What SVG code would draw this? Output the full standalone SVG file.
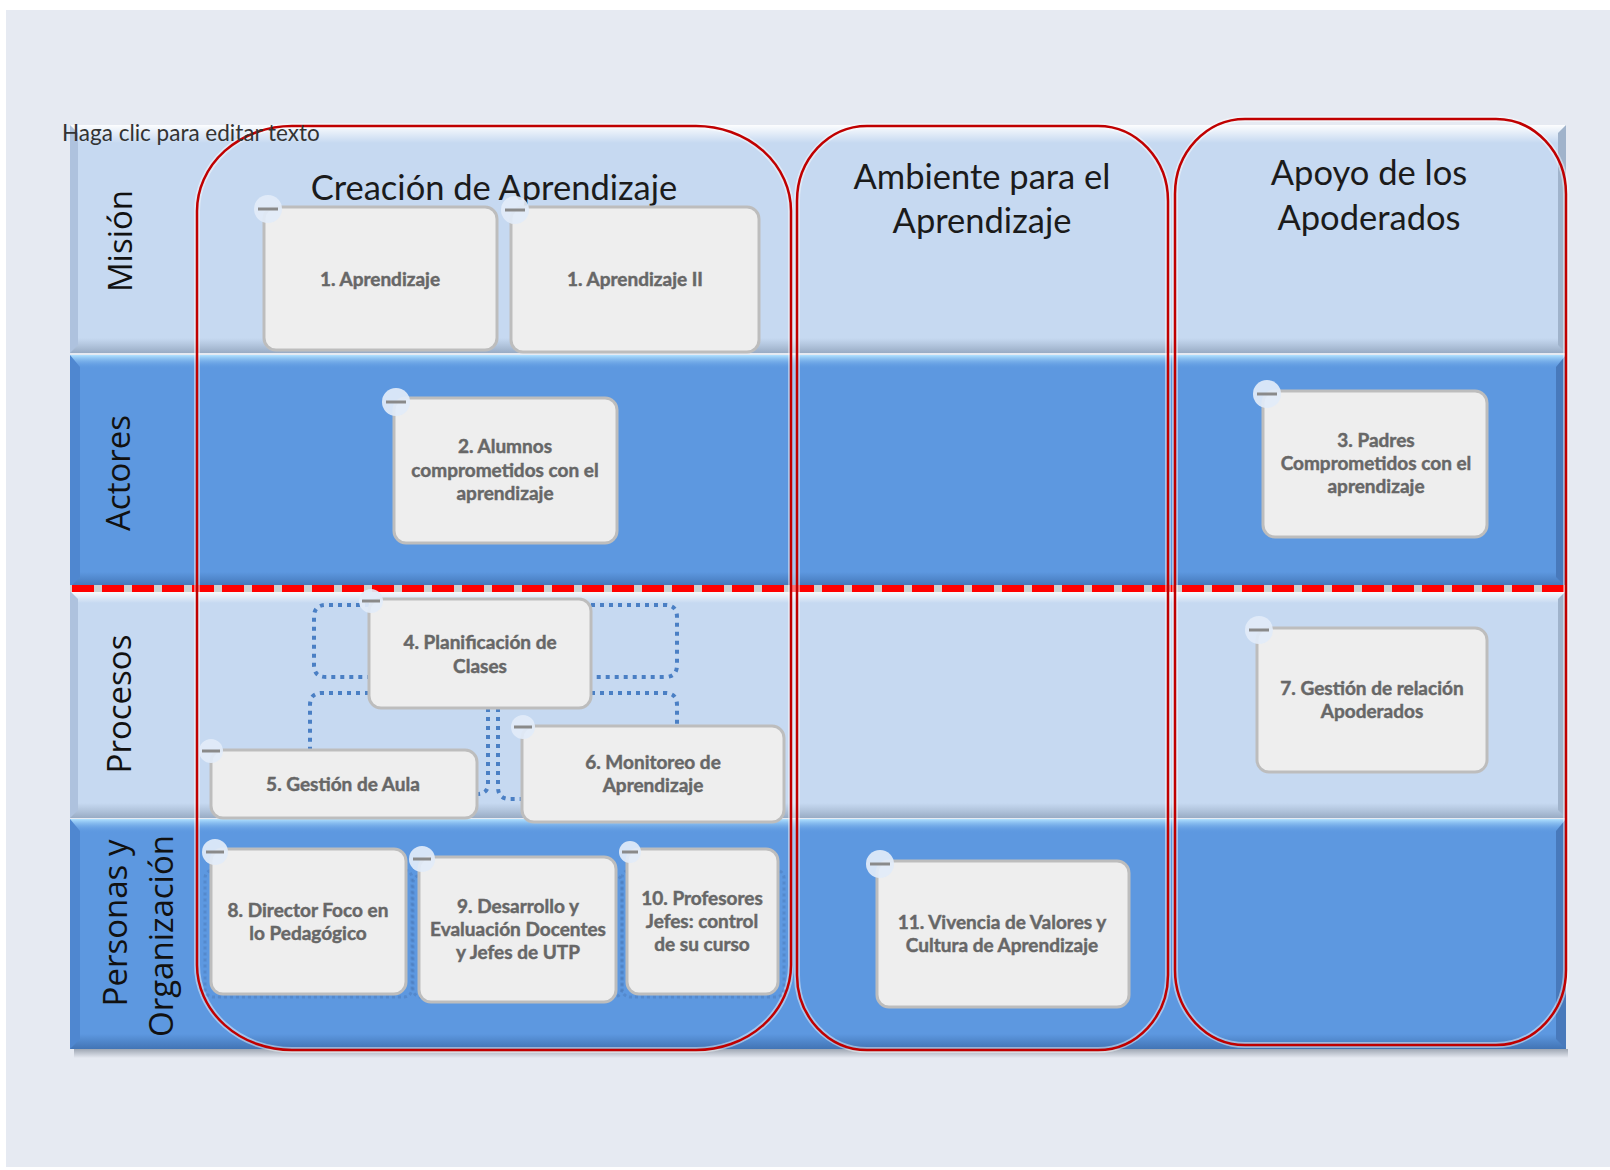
<svg xmlns="http://www.w3.org/2000/svg" width="1610" height="1170" viewBox="0 0 1610 1170">
<defs>
  <linearGradient id="hiLight" x1="0" y1="0" x2="0" y2="1">
    <stop offset="0" stop-color="#ffffff" stop-opacity="0.95"/>
    <stop offset="1" stop-color="#ffffff" stop-opacity="0"/>
  </linearGradient>
  <linearGradient id="shLight" x1="0" y1="0" x2="0" y2="1">
    <stop offset="0" stop-color="#9fb2ca" stop-opacity="0"/>
    <stop offset="1" stop-color="#98abc4" stop-opacity="1"/>
  </linearGradient>
  <linearGradient id="hiDark" x1="0" y1="0" x2="0" y2="1">
    <stop offset="0" stop-color="#b2e2ff" stop-opacity="1"/>
    <stop offset="1" stop-color="#5d98e0" stop-opacity="0"/>
  </linearGradient>
  <linearGradient id="shDark" x1="0" y1="0" x2="0" y2="1">
    <stop offset="0" stop-color="#3f70b0" stop-opacity="0"/>
    <stop offset="1" stop-color="#3f70b0" stop-opacity="0.9"/>
  </linearGradient>
  <linearGradient id="tblShadow" x1="0" y1="0" x2="0" y2="1">
    <stop offset="0" stop-color="#8c95a3" stop-opacity="0.8"/>
    <stop offset="1" stop-color="#8c95a3" stop-opacity="0"/>
  </linearGradient>
</defs>
<style>
  .lane-light { fill:#c6d9f1; }
  .lane-dark { fill:#5d98e0; }
  .bevel-l-light { fill:#aec2de; }
  .bevel-r-light { fill:#a0b3cb; }
  .bevel-l-dark { fill:#4f87d0; }
  .bevel-r-dark { fill:#4879bb; }
  .lane-label { font-family:"Open Sans", "DejaVu Sans", sans-serif; font-size:33px; fill:#111111; text-anchor:middle; }
  .hdr { font-family:Lato, "Liberation Sans", sans-serif; font-size:34.5px; fill:#1b1b1b; text-anchor:middle; }
  .hint { font-family:Lato, "Liberation Sans", sans-serif; font-size:22.5px; fill:#333333; }
  .grp-halo { fill:none; stroke:#ffffff; stroke-opacity:0.45; stroke-width:6; }
  .grp { fill:none; stroke:#c00000; stroke-width:2.5; }
  .box { fill:#eeeeee; stroke:#bdbdbd; stroke-width:3; }
  .ntext { font-family:Lato, "Open Sans", sans-serif; font-weight:700; font-size:19px; fill:#676767; stroke:#676767; stroke-width:0.45; text-anchor:middle; }
  .badge { fill:#e2ebf8; fill-opacity:0.92; }
  .minus { stroke:#8a8a8a; stroke-width:3; }
  .dot { fill:none; stroke:#4a7fc4; stroke-width:4; stroke-dasharray:4 5; }
  .dotframe { fill:none; stroke:#4a78b5; stroke-opacity:0.45; stroke-width:3; stroke-dasharray:3 3; }
</style>

<rect x="0" y="0" width="1610" height="1170" fill="#ffffff"/>
<rect x="6" y="10" width="1604" height="1157" fill="#e6eaf2"/>

<!-- table shadow -->
<rect x="74" y="1049" width="1494" height="9" fill="url(#tblShadow)"/>

<!-- lanes -->
<g id="lane-mision">
  <rect class="lane-light" x="70" y="125" width="1496" height="228"/>
  <rect x="70" y="125" width="1496" height="18" fill="url(#hiLight)"/>
  <rect x="70" y="338" width="1496" height="15" fill="url(#shLight)"/>
  <polygon class="bevel-l-light" points="70,125 78,133 78,345 70,353"/>
  <polygon class="bevel-r-light" points="1566,125 1558,133 1558,345 1566,353"/>
  <text class="lane-label" transform="translate(132,241) rotate(-90)">Misión</text>
</g>
<g id="lane-actores">
  <rect class="lane-dark" x="70" y="355" width="1496" height="232"/>
  <rect x="70" y="355" width="1496" height="14" fill="url(#hiDark)"/>
  <rect x="70" y="572" width="1496" height="15" fill="url(#shDark)"/>
  <polygon class="bevel-l-dark" points="70,355 80,367 80,577 70,587"/>
  <polygon class="bevel-r-dark" points="1566,355 1556,367 1556,577 1566,587"/>
  <text class="lane-label" transform="translate(130,473) rotate(-90)">Actores</text>
</g>
<g id="lane-procesos">
  <rect class="lane-light" x="70" y="591" width="1496" height="227"/>
  <rect x="70" y="591" width="1496" height="12" fill="url(#hiLight)"/>
  <rect x="70" y="803" width="1496" height="15" fill="url(#shLight)"/>
  <polygon class="bevel-l-light" points="70,591 78,599 78,810 70,818"/>
  <polygon class="bevel-r-light" points="1566,591 1558,599 1558,810 1566,818"/>
  <text class="lane-label" transform="translate(131,704) rotate(-90)">Procesos</text>
</g>
<g id="lane-personas">
  <rect class="lane-dark" x="70" y="819" width="1496" height="230"/>
  <rect x="70" y="819" width="1496" height="14" fill="url(#hiDark)"/>
  <rect x="70" y="1034" width="1496" height="15" fill="url(#shDark)"/>
  <polygon class="bevel-l-dark" points="70,819 80,831 80,1039 70,1049"/>
  <polygon class="bevel-r-dark" points="1566,819 1556,831 1556,1039 1566,1049"/>
  <text class="lane-label" transform="translate(127,930) rotate(-90)"><tspan x="7" y="0">Personas y</tspan><tspan x="-6" y="46">Organización</tspan></text>
</g>

<!-- separator -->
<g id="separator">
  <line x1="70" y1="588.5" x2="1566" y2="588.5" stroke="#cfcfcf" stroke-width="7"/>
  <line x1="72" y1="588.5" x2="1566" y2="588.5" stroke="#ff0000" stroke-width="7" stroke-dasharray="22 8"/>
</g>

<!-- column headers -->
<g id="headers">
  <text class="hdr" x="494" y="200">Creación de Aprendizaje</text>
  <text class="hdr" x="982" y="189">Ambiente para el</text>
  <text class="hdr" x="982" y="233">Aprendizaje</text>
  <text class="hdr" x="1369" y="185">Apoyo de los</text>
  <text class="hdr" x="1369" y="230">Apoderados</text>
</g>

<!-- group outlines -->
<g id="groups">
  <rect class="grp-halo" x="197" y="126" width="594" height="924" rx="95" ry="85"/>
  <rect class="grp" x="197" y="126" width="594" height="924" rx="95" ry="85"/>
  <rect class="grp-halo" x="797" y="126" width="371" height="924" rx="70" ry="75"/>
  <rect class="grp" x="797" y="126" width="371" height="924" rx="70" ry="75"/>
  <rect class="grp-halo" x="1175" y="119" width="391" height="926" rx="70" ry="75"/>
  <rect class="grp" x="1175" y="119" width="391" height="926" rx="70" ry="75"/>
</g>

<text class="hint" x="62" y="141">Haga clic para editar texto</text>

<!-- connectors -->
<g id="connectors">
  <path class="dot" d="M369 605 H326 Q314 605 314 617 V665 Q314 677 326 677 H369"/>
  <path class="dot" d="M591 605 H665 Q677 605 677 617 V665 Q677 677 665 677 H591"/>
  <path class="dot" d="M369 693 H322 Q310 693 310 705 V750"/>
  <path class="dot" d="M591 693 H665 Q677 693 677 705 V726"/>
  <path class="dot" d="M488 708 V784 Q488 794 477 794"/>
  <path class="dot" d="M498 708 V787 Q498 799 510 799 H522"/>
  <rect class="dotframe" x="205" y="870" width="207" height="127" rx="8"/>
  <rect class="dotframe" x="413" y="875" width="209" height="122" rx="8"/>
  <rect class="dotframe" x="622" y="870" width="162" height="127" rx="8"/>
</g>

<!-- nodes -->
<g id="n1" class="node">
  <rect class="box" x="264" y="207" width="233" height="143" rx="12"/>
  <text class="ntext" x="380" y="286">1. Aprendizaje</text>
  <circle class="badge" cx="268" cy="209" r="14"/><line class="minus" x1="258" y1="209" x2="278" y2="209"/>
</g>
<g id="n1b" class="node">
  <rect class="box" x="511" y="207" width="248" height="145" rx="12"/>
  <text class="ntext" x="635" y="286">1. Aprendizaje II</text>
  <circle class="badge" cx="515" cy="210" r="14"/><line class="minus" x1="505" y1="210" x2="525" y2="210"/>
</g>
<g id="n2" class="node">
  <rect class="box" x="394" y="398" width="223" height="145" rx="12"/>
  <text class="ntext" x="505" y="453">2. Alumnos</text>
  <text class="ntext" x="505" y="477">comprometidos con el</text>
  <text class="ntext" x="505" y="500">aprendizaje</text>
  <circle class="badge" cx="396" cy="402" r="14"/><line class="minus" x1="386" y1="402" x2="406" y2="402"/>
</g>
<g id="n3" class="node">
  <rect class="box" x="1263" y="391" width="224" height="146" rx="12"/>
  <text class="ntext" x="1376" y="447">3. Padres</text>
  <text class="ntext" x="1376" y="470">Comprometidos con el</text>
  <text class="ntext" x="1376" y="493">aprendizaje</text>
  <circle class="badge" cx="1267" cy="394" r="14"/><line class="minus" x1="1257" y1="394" x2="1277" y2="394"/>
</g>
<g id="n4" class="node">
  <rect class="box" x="369" y="599" width="222" height="109" rx="12"/>
  <text class="ntext" x="480" y="649">4. Planificación de</text>
  <text class="ntext" x="480" y="673">Clases</text>
  <circle class="badge" cx="371" cy="601" r="12"/><line class="minus" x1="362" y1="601" x2="380" y2="601"/>
</g>
<g id="n5" class="node">
  <rect class="box" x="211" y="750" width="266" height="68" rx="12"/>
  <text class="ntext" x="343" y="791">5. Gestión de Aula</text>
  <circle class="badge" cx="211" cy="751" r="12"/><line class="minus" x1="202" y1="751" x2="220" y2="751"/>
</g>
<g id="n6" class="node">
  <rect class="box" x="522" y="726" width="262" height="96" rx="12"/>
  <text class="ntext" x="653" y="769">6. Monitoreo de</text>
  <text class="ntext" x="653" y="792">Aprendizaje</text>
  <circle class="badge" cx="523" cy="727" r="12"/><line class="minus" x1="514" y1="727" x2="532" y2="727"/>
</g>
<g id="n7" class="node">
  <rect class="box" x="1257" y="628" width="230" height="144" rx="12"/>
  <text class="ntext" x="1372" y="695">7. Gestión de relación</text>
  <text class="ntext" x="1372" y="718">Apoderados</text>
  <circle class="badge" cx="1259" cy="630" r="14"/><line class="minus" x1="1249" y1="630" x2="1269" y2="630"/>
</g>
<g id="n8" class="node">
  <rect class="box" x="211" y="849" width="195" height="145" rx="12"/>
  <text class="ntext" x="308" y="917">8. Director Foco en</text>
  <text class="ntext" x="308" y="940">lo Pedagógico</text>
  <circle class="badge" cx="215" cy="852" r="13"/><line class="minus" x1="206" y1="852" x2="224" y2="852"/>
</g>
<g id="n9" class="node">
  <rect class="box" x="419" y="857" width="197" height="145" rx="12"/>
  <text class="ntext" x="518" y="913">9. Desarrollo y</text>
  <text class="ntext" x="518" y="936">Evaluación Docentes</text>
  <text class="ntext" x="518" y="959">y Jefes de UTP</text>
  <circle class="badge" cx="422" cy="859" r="13"/><line class="minus" x1="413" y1="859" x2="431" y2="859"/>
</g>
<g id="n10" class="node">
  <rect class="box" x="627" y="849" width="151" height="145" rx="12"/>
  <text class="ntext" x="702" y="905">10. Profesores</text>
  <text class="ntext" x="702" y="928">Jefes: control</text>
  <text class="ntext" x="702" y="951">de su curso</text>
  <circle class="badge" cx="630" cy="852" r="11"/><line class="minus" x1="622" y1="852" x2="638" y2="852"/>
</g>
<g id="n11" class="node">
  <rect class="box" x="877" y="861" width="252" height="146" rx="12"/>
  <text class="ntext" x="1002" y="929">11. Vivencia de Valores y</text>
  <text class="ntext" x="1002" y="952">Cultura de Aprendizaje</text>
  <circle class="badge" cx="880" cy="864" r="14"/><line class="minus" x1="870" y1="864" x2="890" y2="864"/>
</g>
</svg>
